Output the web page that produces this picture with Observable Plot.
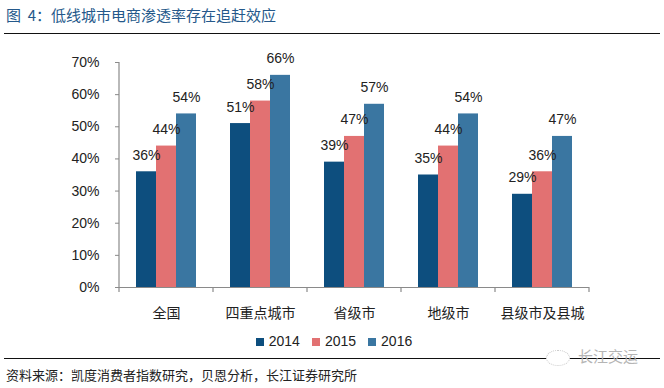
<!DOCTYPE html>
<html>
<head>
<meta charset="utf-8">
<script src="https://cdn.jsdelivr.net/npm/d3@7"></script>
<script src="https://cdn.jsdelivr.net/npm/@observablehq/plot@0.6"></script>
<style>
  html, body { margin: 0; padding: 0; background: #fff; }
  #wrap { position: relative; width: 664px; height: 388px; overflow: hidden; background: #fff;
          font-family: Arial, "Liberation Sans", "Noto Sans CJK SC", sans-serif; }
  #title { position: absolute; left: 6px; top: 5px; font-size: 15px; line-height: 20px;
           color: #24588a; font-family: "Noto Sans CJK SC", sans-serif; white-space: pre; }
  .hline { position: absolute; left: 4px; width: 656px; height: 0; border-top: 1.5px solid #111; }
  #chart { position: absolute; left: 0; top: 40px; }
  #legend { position: absolute; top: 331px; left: 0; width: 664px; display: flex; justify-content: center;
            font-size: 14px; line-height: 20px; color: #222; padding-left: 4px; box-sizing: border-box; }
  #legend .item { display: flex; align-items: baseline; margin: 0 6px; }
  #legend .sw { display: inline-block; width: 8px; height: 8px; margin-right: 5px; }
  #source { position: absolute; left: 6px; top: 366px; font-size: 13px; line-height: 18px; color: #222;
            font-family: "Noto Sans CJK SC", sans-serif; white-space: nowrap; }
  #wm { position: absolute; left: 546px; top: 346px; font-size: 15px; line-height: 20px; color: #b5b5b5;
        font-family: "Noto Sans CJK SC", sans-serif; white-space: nowrap; }
  #wm .ic { display: inline-block; width: 22px; height: 14px; border: 1px dotted #c8c8c8; border-radius: 50%;
            vertical-align: middle; margin-right: 8px; background: #fff; }
</style>
</head>
<body>
<div id="wrap">
  <div id="title">图  4：低线城市电商渗透率存在追赶效应</div>
  <div class="hline" style="top:33px"></div>
  <div id="chart"></div>
  <div id="legend"></div>
  <div class="hline" style="top:358px"></div>
  <div id="source">资料来源：凯度消费者指数研究，贝恩分析，长江证券研究所</div>
  <div id="wm"><span class="ic"></span>长江交运</div>
</div>
<script>
const categories = ["全国", "四重点城市", "省级市", "地级市", "县级市及县城"];
const years = ["2014", "2015", "2016"];
const v2014 = [0.36, 0.51, 0.39, 0.35, 0.29];
const v2015 = [0.44, 0.58, 0.47, 0.44, 0.36];
const v2016 = [0.54, 0.66, 0.57, 0.54, 0.47];
const colors = ["#0d4e7e", "#e27172", "#3a76a1"];
const yTicks = [0, 0.1, 0.2, 0.3, 0.4, 0.5, 0.6, 0.7];

const series = [v2014, v2015, v2016];
const data = categories.flatMap((c, i) => years.map((y, j) => ({cat: c, year: y, value: series[j][i]})));
const pct = d3.format(".0%");

const plot = Plot.plot({
  width: 664,
  height: 290,
  marginLeft: 117,
  marginRight: 73,
  marginTop: 22,
  marginBottom: 43,
  style: {fontFamily: 'Arial, "Liberation Sans", "Noto Sans CJK SC", sans-serif', fontSize: "14px", color: "#222", background: "transparent"},
  fx: {domain: categories, padding: 0, label: null, axis: "bottom", tickSize: 0, tickPadding: 21},
  x: {domain: years, paddingInner: 0, paddingOuter: 0.75, axis: null},
  y: {domain: [0, 0.7], ticks: yTicks, tickFormat: pct, label: null, tickSize: 4, tickPadding: 16},
  color: {domain: years, range: colors},
  marks: [
    Plot.barY(data, {fx: "cat", x: "year", y: "value", fill: "year"}),
    Plot.text(data, {fx: "cat", x: "year", y: "value", text: d => pct(d.value), dy: -12, lineAnchor: "bottom", fontSize: 14, fill: "#222"}),
    Plot.ruleY([0], {stroke: "#8a8a8a", strokeWidth: 1.2})
  ]
});

// axis styling: grey y-axis line and category boundary ticks from the plot's scales
const svg = d3.select(plot);
svg.selectAll('[aria-label="y-axis tick"] path, [aria-label="y-axis tick"]').attr("stroke", "#8a8a8a");
const fx = plot.scale("fx");
const ys = plot.scale("y");
const y0 = ys.apply(0), yTop = ys.apply(0.7);
const x0 = fx.apply(categories[0]);
const bounds = categories.map(c => fx.apply(c)).concat([fx.apply(categories[categories.length - 1]) + fx.bandwidth]);
const g = svg.append("g").attr("stroke", "#8a8a8a").attr("stroke-width", 1.2);
g.append("line").attr("x1", x0).attr("x2", x0).attr("y1", yTop).attr("y2", y0);
g.selectAll("line.b").data(bounds).join("line").attr("class", "b")
  .attr("x1", d => d).attr("x2", d => d).attr("y1", y0).attr("y2", y0 + 5);

document.getElementById("chart").appendChild(plot);

const legend = document.getElementById("legend");
years.forEach((y, i) => {
  const it = document.createElement("div");
  it.className = "item";
  it.innerHTML = `<span class="sw" style="background:${colors[i]}"></span><span>${y}</span>`;
  legend.appendChild(it);
});
</script>
</body>
</html>
